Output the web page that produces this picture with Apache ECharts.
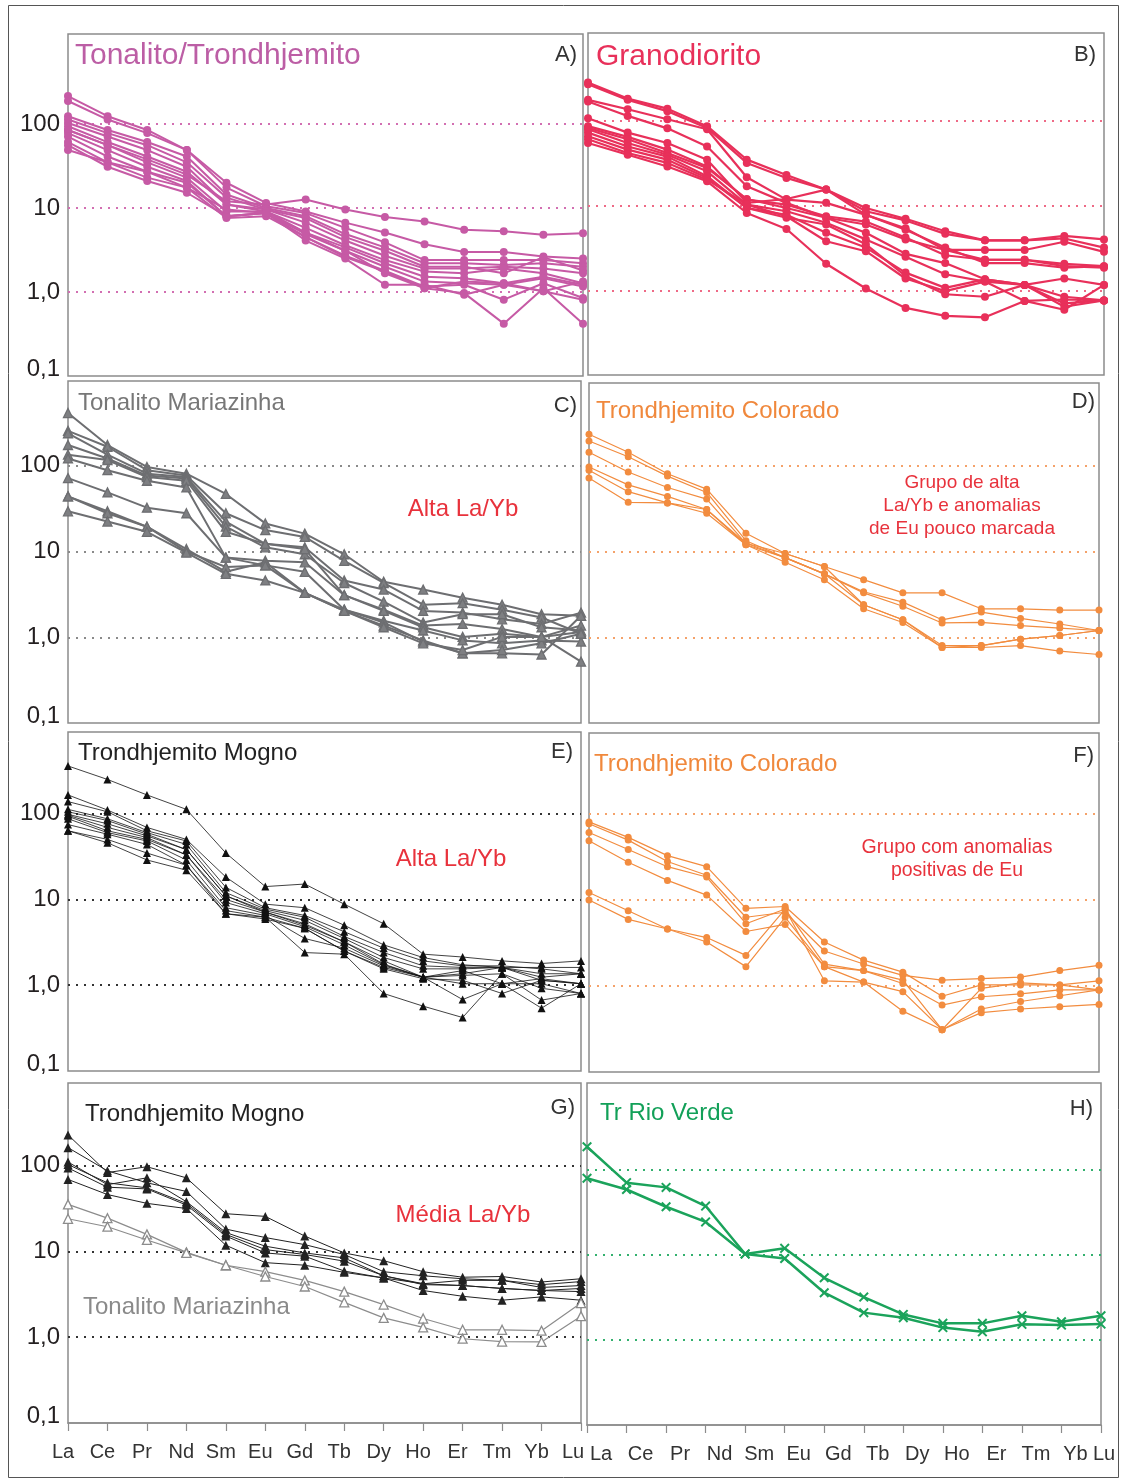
<!DOCTYPE html>
<html><head><meta charset="utf-8">
<script src="https://cdn.jsdelivr.net/npm/echarts/dist/echarts.min.js"></script>
<style>html,body{margin:0;padding:0;background:#fff}#c{width:1121px;height:1481px}</style>
</head><body><div id="c"></div>
<script>
// ---------- DATA ----------
const elements = ['La','Ce','Pr','Nd','Sm','Eu','Gd','Tb','Dy','Ho','Er','Tm','Yb','Lu'];
const yTickLabels = ['0,1','1,0','10','100'];

const panelA = [
  [85,56,38,25,12,11,12.6,9.6,7.8,6.9,5.5,5.3,4.8,5.0],
  [215,124,85,49,20,11.5,9.1,6.7,5.1,3.7,3.0,3.0,2.65,2.5],
  [188,113,78,49,17.5,10.5,8.7,5.8,3.9,2.4,2.4,2.4,2.4,2.2],
  [124,85,61,41,14.5,10,8,4.9,3.4,2.2,2.2,2.1,2.2,2.0],
  [113,78,56,35,13.3,9.6,7.6,4.5,3.1,2.0,2.0,1.67,2.6,1.8],
  [103,71,49,31,11,9.6,6.7,4.1,2.7,1.9,1.9,2.0,1.9,1.67],
  [94,61,41,27,11,9.1,5.8,3.6,2.4,1.75,1.67,1.9,1.67,1.27],
  [85,56,35,23,9.1,9.1,5.1,3.4,2.2,1.52,1.46,1.27,1.52,1.22],
  [78,49,31,21,8,8.7,4.9,3.1,2.0,1.33,1.27,1.22,1.46,1.16],
  [71,41,27,20,8,8.7,4.5,2.7,1.8,1.16,1.22,0.81,1.27,0.85],
  [61,35,23,17.5,7.6,8,4.5,2.6,1.75,1.11,0.97,0.42,1.11,0.42],
  [56,31,21,15.2,8,8.7,4.1,2.5,1.22,1.22,0.93,1.22,1.02,0.81],
  [49,35,27,17.5,9.6,8.7,5.1,3.1,1.67,1.11,1.33,1.27,1.02,1.33]
];
const panelB = [
  [285,184,140,87,35,23,15.5,9.4,7.0,5.0,3.9,3.9,4.4,4.0],
  [272,178,131,83,32,21.3,15.5,8.6,6.7,4.65,3.9,3.9,4.1,3.2],
  [178,138,105,80,21.7,11.8,10.8,7.8,5.4,3.0,3.0,3.0,3.75,2.85],
  [170,115,82,50,17,10.8,7.2,6.0,4.0,3.0,2.3,2.3,2.06,1.93],
  [108,73,55,35,10.8,12,15.5,7.8,5.2,3.2,2.1,2.1,1.85,1.93],
  [87,65,46,29,11.8,10.3,7.5,6.5,4.2,2.6,2.3,2.3,1.93,1.85],
  [83,61,42,28,12,9.4,7.2,4.8,2.7,2.1,1.35,1.16,1.38,1.16],
  [80,55,40,25.5,10.3,8.6,6.3,4.0,2.5,1.55,1.27,1.16,0.84,0.76],
  [73,50,38,22.3,9.4,7.8,4.8,3.2,1.62,1.07,1.35,1.16,0.70,0.76],
  [66,46,35,21.3,9.4,7.2,6.0,3.5,1.48,0.90,0.84,1.16,0.64,0.76],
  [61,42,32,20.3,10.3,7.5,3.8,2.9,1.38,0.98,1.27,0.75,0.59,1.16],
  [55,40,29,19.4,8.2,5.3,2.06,1.05,0.62,0.50,0.48,0.75,0.78,0.76]
];
const panelC = [
  [413,175,97,81,47,21.3,16.2,9.3,4.45,3.6,2.9,2.4,1.86,1.78],
  [256,167,89,77,28,17.8,14.8,7.8,4.3,2.4,2.5,2.1,1.7,1.1],
  [240,135,81,74,22.4,12.3,11.2,4.6,3.6,2.03,1.94,1.62,1.43,1.94],
  [175,122,77,71,19.5,11.2,9.3,4.3,2.6,1.49,1.86,1.86,1.31,1.2],
  [135,117,74,67,17,12.3,10.7,3.1,2.1,1.37,1.43,1.25,1.01,1.37],
  [122,89,67,56,8.5,7.8,7.5,3.1,2.03,1.31,1.01,1.1,1.01,1.15],
  [72,49,32.5,28,8.5,6.9,5.8,2.1,1.56,1.2,0.92,0.85,0.92,0.89],
  [44,29.5,19.5,10.7,5.8,7.5,3.3,2.1,1.49,0.89,0.65,0.65,0.63,1.78],
  [44,28,19.5,10,6.6,6.9,3.3,2.03,1.37,0.92,0.65,0.71,0.85,1.1],
  [29.5,22.4,17,9.7,5.5,4.6,3.3,2.03,1.31,0.85,0.71,1.01,1.01,0.52]
];
const panelD = [
  [234,144,81,53.5,16.4,9.5,6.7,4.7,3.3,3.3,2.15,2.15,2.08,2.08],
  [195,128,76,49,13.4,8.5,5.5,3.4,2.57,1.6,1.97,1.66,1.43,1.2],
  [144,85,56,41,12.5,8.5,5.5,3.3,2.3,1.47,1.49,1.37,1.28,1.2],
  [97,60,44,31,12,8.5,5.5,2.4,1.6,0.76,0.80,0.95,1.05,1.2],
  [89,50,37,28,12,7.5,4.7,2.15,1.49,0.76,0.76,0.80,0.69,0.63],
  [72,37.6,37,31,12.5,9.5,6.7,2.4,1.6,0.80,0.80,0.95,1.05,1.2]
];
const panelE = [
  [359,250,165,112,34.7,14.1,15.1,8.8,5.2,2.3,2.13,1.92,1.79,1.92],
  [165,110,69,50,18.2,8.8,8.0,5.0,2.95,2.1,1.73,1.61,1.61,1.61],
  [138,105,63,48,13.8,8.0,6.5,4.2,2.7,1.92,1.68,1.68,1.55,1.36],
  [112,87,60,43.7,12,7.7,6.2,3.7,2.4,1.68,1.61,1.61,1.36,1.36],
  [105,83,57.5,38,11,7.4,5.7,3.5,2.1,1.55,1.55,1.61,1.24,1.36],
  [98,76,55,38,11,7.1,5.2,3.2,1.92,1.24,1.48,1.04,1.19,1.04],
  [95.5,69,52.5,33,10,7.1,5.0,3.2,1.76,1.24,1.36,1.61,1.14,1.04],
  [93,63,50,33,9.2,6.8,4.8,2.95,1.73,1.24,1.30,1.36,0.92,0.80],
  [87,60,48,28.8,8.0,6.5,3.5,2.7,1.68,1.24,1.04,1.04,1.04,0.80],
  [74.5,57.5,43.7,25,7.4,6.2,2.4,2.3,0.80,0.57,0.42,1.36,0.67,0.80],
  [63,50,34.7,25,6.8,6.2,4.6,2.5,1.61,1.24,0.68,1.04,0.54,1.04],
  [63,45.7,28.8,21.9,6.8,5.9,4.6,2.5,1.55,1.19,1.14,0.80,1.14,1.04]
];
const panelF = [
  [81,53.5,32.8,24.4,8.0,8.4,3.25,2.0,1.45,0.76,1.03,1.03,1.03,1.15],
  [77,49.7,28,19.4,6.3,7.2,2.55,1.8,1.33,1.17,1.22,1.27,1.51,1.74],
  [61,38.7,24.4,18.5,5.3,7.85,1.8,1.51,1.17,0.31,0.94,1.09,1.03,0.90],
  [48.8,27.5,16.9,11.4,4.3,5.2,1.68,1.51,1.07,0.60,0.75,0.81,0.90,0.90],
  [12.2,7.5,4.6,3.66,2.27,7.85,1.15,1.11,0.86,0.31,0.54,0.66,0.77,0.90],
  [10,5.95,4.6,3.25,1.68,6.3,1.68,1.11,0.51,0.31,0.49,0.54,0.575,0.61]
];
const panelGMogno = [
  [228,83,97,72,27.5,25.6,15.1,9.6,7.8,5.8,5.0,5.1,4.4,4.8],
  [162,87,63,50,18.2,14.5,12,9.2,5.8,5.2,4.8,4.6,4.1,4.45],
  [110,60,72,38,16.6,11.5,9.6,8.4,5.2,4.2,4.6,4.6,3.8,4.0],
  [103,63,55,36.3,15.8,10.5,9.2,7.7,5.2,4.1,4.0,3.7,3.5,3.7],
  [94,56,53.5,34.7,15.1,9.6,8.8,5.9,4.9,3.5,3.0,2.7,2.95,2.7],
  [69,46,36.3,31.6,11.8,7.4,6.9,5.7,4.9,4.2,4.0,3.7,3.5,3.4]
];
const panelGMariazinha = [
  [35.3,24.4,15.8,9.75,6.9,5.8,4.6,3.4,2.4,1.65,1.22,1.22,1.19,2.5],
  [24,19.4,13.6,9.6,6.9,5.1,3.9,2.55,1.68,1.3,0.96,0.89,0.88,1.76]
];
const panelH = [
  [188,71,62.5,37.7,10.3,12,5.4,3.2,2.0,1.57,1.57,1.93,1.64,1.93],
  [80,59,37,24.5,10.3,9.1,3.6,2.1,1.83,1.4,1.25,1.53,1.5,1.54]
];

// ---------- LAYOUT / STYLE ----------
const FONT = '"Liberation Sans", Arial, Helvetica, sans-serif';
const xMark = 'path://M0,1.4 L1.4,0 L5,3.6 L8.6,0 L10,1.4 L6.4,5 L10,8.6 L8.6,10 L5,6.4 L1.4,10 L0,8.6 L3.6,5 Z';

const panels = [
  {grid:{left:68, top:34, width:515, height:342}, max:1180, yLab:true, dot:'#D26FB2'},
  {grid:{left:588, top:33, width:516, height:342}, max:1097, dot:'#EE6A86'},
  {grid:{left:68, top:381, width:513, height:342}, max:977, yLab:true, dot:'#8A8A8A'},
  {grid:{left:589, top:383, width:510, height:340}, max:927, dot:'#F4A26A'},
  {grid:{left:68, top:732, width:513, height:339}, max:893, yLab:true, dot:'#333333'},
  {grid:{left:589, top:733, width:510, height:339}, max:875, dot:'#F4A26A'},
  {grid:{left:68, top:1083, width:513, height:340}, max:918, yLab:true, xLab:true, shift:-5, luShift:-8, dot:'#333333'},
  {grid:{left:587, top:1083, width:514, height:342}, max:1057, xLab:true, shift:14, luShift:3, dot:'#33B06E'}
];

const groups = [
  {p:0, data:panelA, color:'#C65AA5', lw:2, sym:'circle', size:8},
  {p:1, data:panelB, color:'#E8305A', lw:2.2, sym:'circle', size:8},
  {p:2, data:panelC, color:'#6D6E71', lw:2, sym:'triangle', size:9, fill:'#7E7F82'},
  {p:3, data:panelD, color:'#F28C3F', lw:1.2, sym:'circle', size:7},
  {p:4, data:panelE, color:'#111111', lw:0.8, sym:'triangle', size:8},
  {p:5, data:panelF, color:'#F28C3F', lw:1.2, sym:'circle', size:7},
  {p:6, data:panelGMogno, color:'#222222', lw:1, sym:'triangle', size:9},
  {p:6, data:panelGMariazinha, color:'#8C8C8C', lw:1.2, sym:'triangle', size:9, fill:'#ffffff'},
  {p:7, data:panelH, color:'#1BA35B', lw:2.5, sym:xMark, size:10}
];

const texts = [
  {t:'Tonalito/Trondhjemito', x:75, y:56, s:30, c:'#BC5EA5'},
  {t:'A)', x:577, y:55, s:22, c:'#333', a:'right'},
  {t:'Granodiorito', x:596, y:57, s:30, c:'#E8305A'},
  {t:'B)', x:1096, y:55, s:22, c:'#333', a:'right'},
  {t:'Tonalito Mariazinha', x:78, y:403, s:24, c:'#777'},
  {t:'C)', x:577, y:406, s:22, c:'#333', a:'right'},
  {t:'Alta La/Yb', x:463, y:509, s:24, c:'#E8323C', a:'center'},
  {t:'Trondhjemito Colorado', x:596, y:411, s:24, c:'#F0883C'},
  {t:'D)', x:1095, y:402, s:22, c:'#333', a:'right'},
  {t:'Grupo de alta', x:962, y:483, s:19, c:'#E8323C', a:'center'},
  {t:'La/Yb e anomalias', x:962, y:506, s:19, c:'#E8323C', a:'center'},
  {t:'de Eu pouco marcada', x:962, y:529, s:19, c:'#E8323C', a:'center'},
  {t:'Trondhjemito Mogno', x:78, y:753, s:24, c:'#222'},
  {t:'E)', x:573, y:752, s:22, c:'#333', a:'right'},
  {t:'Alta La/Yb', x:451, y:859, s:24, c:'#E8323C', a:'center'},
  {t:'Trondhjemito Colorado', x:594, y:764, s:24, c:'#F0883C'},
  {t:'F)', x:1094, y:756, s:22, c:'#333', a:'right'},
  {t:'Grupo com anomalias', x:957, y:848, s:19.5, c:'#E8323C', a:'center'},
  {t:'positivas de Eu', x:957, y:871, s:19.5, c:'#E8323C', a:'center'},
  {t:'Trondhjemito Mogno', x:85, y:1114, s:24, c:'#222'},
  {t:'G)', x:575, y:1108, s:22, c:'#333', a:'right'},
  {t:'Média La/Yb', x:463, y:1215, s:24, c:'#E8323C', a:'center'},
  {t:'Tonalito Mariazinha', x:83, y:1307, s:24, c:'#8A8A8A'},
  {t:'Tr Rio Verde', x:600, y:1113, s:24, c:'#12A058'},
  {t:'H)', x:1093, y:1109, s:22, c:'#333', a:'right'}
];

// ---------- BUILD ----------
function yFmt(v){
  const l = Math.round(Math.log10(v)*1000)/1000;
  if (l === -1) return '{low|' + yTickLabels[0] + '}';
  if (l === 0) return yTickLabels[1];
  if (l === 1) return yTickLabels[2];
  if (l === 2) return yTickLabels[3];
  return '';
}
function padFor(sh, bottom){
  // horizontal shift of a centred label by sh pixels
  return sh >= 0 ? [0,0,bottom,2*sh] : [0,-2*sh,bottom,0];
}
function xRich(p){
  const base = {fontSize:20, color:'#333', fontFamily:FONT};
  return {
    n: Object.assign({padding:padFor(p.shift||0, 0)}, base),
    up: Object.assign({padding:padFor(p.shift||0, 9)}, base),
    lu: Object.assign({padding:padFor(p.luShift||0, 0)}, base)
  };
}
function xFmt(v){ return v === 'Dy' ? '{up|Dy}' : (v === 'Lu' ? '{lu|Lu}' : '{n|' + v + '}'); }

const grid = panels.map(p => Object.assign({show:true, borderColor:'#8C8C8C', borderWidth:1.5, backgroundColor:'transparent', containLabel:false, outerBoundsMode:'none'}, p.grid));
const xAxis = panels.map((p,i) => ({
  type:'category', gridIndex:i, data:elements, boundaryGap:false,
  axisLine:{show:!!p.xLab, lineStyle:{color:'#8C8C8C', width:1.5}},
  axisTick:{show:!!p.xLab, length:8, alignWithLabel:true, lineStyle:{color:'#8C8C8C', width:1.2}},
  axisLabel:{show:!!p.xLab, interval:0, fontSize:20, color:'#333', fontFamily:FONT, margin:19,
    formatter:xFmt, hideOverlap:false, rich:xRich(p)},
  splitLine:{show:false}
}));
const yAxis = panels.map((p,i) => ({
  type:'log', logBase:10, gridIndex:i, min:0.1, max:p.max,
  axisLine:{show:false}, axisTick:{show:false}, splitLine:{show:false},
  axisLabel:{show:!!p.yLab, formatter:yFmt, fontSize:24, color:'#231F20', fontFamily:FONT, margin:8,
    rich:{low:{fontSize:24, color:'#231F20', fontFamily:FONT, padding:[0,0,13,0]}}}
}));

const series = [];
const dotted = new Set();
groups.forEach(g => {
  g.data.forEach((row, k) => {
    const s = {
      type:'line', xAxisIndex:g.p, yAxisIndex:g.p, data:row,
      symbol:g.sym, symbolSize:g.size, showSymbol:true,
      lineStyle:{color:g.color, width:g.lw},
      itemStyle:{color:g.fill || g.color, borderColor:g.color, borderWidth:g.fill ? 1.3 : 0},
      z:3, silent:true, animation:false
    };
    if (!dotted.has(g.p)) {
      dotted.add(g.p);
      s.markLine = {silent:true, symbol:'none', label:{show:false}, animation:false, z:1,
        lineStyle:{type:[2,6], width:2, color:panels[g.p].dot},
        data:[{yAxis:1},{yAxis:10},{yAxis:100}]};
    }
    series.push(s);
  });
});

const graphic = [{type:'rect', shape:{x:8.5, y:5.5, width:1110, height:1472}, style:{fill:'none', stroke:'#555', lineWidth:1}, silent:true, z:-1}];
texts.forEach(t => graphic.push({type:'text', x:t.x, y:t.y, silent:true, z:10,
  style:{text:t.t, font:t.s + 'px ' + FONT, fill:t.c, textAlign:t.a||'left', textVerticalAlign:'middle'}}));

const chart = echarts.init(document.getElementById('c'), null, {renderer:'canvas'});
chart.setOption({animation:false, backgroundColor:'#ffffff', grid, xAxis, yAxis, series, graphic});
</script></body></html>
